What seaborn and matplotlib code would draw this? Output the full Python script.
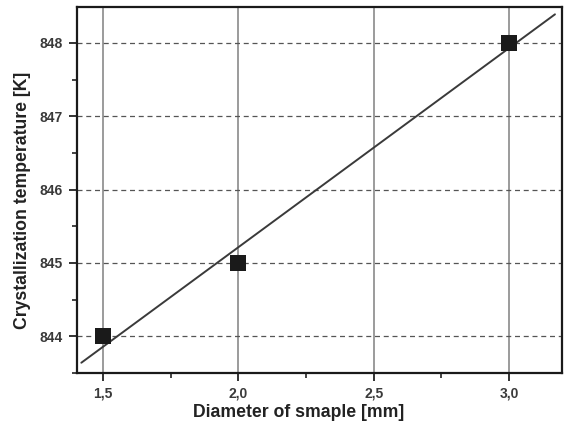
import numpy as np
import pandas as pd
import seaborn as sns
import matplotlib
matplotlib.use("Agg")
import matplotlib.pyplot as plt
from matplotlib.ticker import MultipleLocator, FuncFormatter

diameter = [1.5, 2.0, 3.0]
temperature = [844, 845, 848]
x_ticks = [1.5, 2.0, 2.5, 3.0]
y_ticks = [844, 845, 846, 847, 848]

sns.set_theme(style="white")
plt.rcParams['font.family'] = ['Liberation Sans', 'DejaVu Sans']

fig = plt.figure(figsize=(5.64, 4.25), dpi=100)
ax = fig.add_axes([77/564, 1 - 373/425, (562-77)/564, (373-7)/425])

df = pd.DataFrame({"d": diameter, "t": temperature})

# linear fit
slope, intercept = np.polyfit(diameter, temperature, 1)
xf = np.array([1.42, 3.17])
fit = pd.DataFrame({"d": xf, "t": slope * xf + intercept})

ax.set_xlim(1.404, 3.196)
ax.set_ylim(843.5, 848.49)

for xv in x_ticks:
    ax.axvline(xv, color="#8a8a8a", lw=1.2, zorder=0)
for yv in y_ticks:
    ax.axhline(yv, color="#555555", lw=0.9, ls=(0, (4, 3)), zorder=0)

sns.lineplot(data=fit, x="d", y="t", ax=ax, color="#3a3a3a", lw=1.4, zorder=2)
sns.scatterplot(data=df, x="d", y="t", ax=ax, marker="s", s=130, color="#1a1a1a",
                edgecolor="#1a1a1a", linewidth=0, zorder=3)

ax.set_xticks(x_ticks)
ax.set_yticks(y_ticks)
ax.xaxis.set_minor_locator(MultipleLocator(0.25))
ax.yaxis.set_minor_locator(MultipleLocator(0.5))
ax.xaxis.set_major_formatter(FuncFormatter(lambda v, p: f"{v:.1f}".replace(".", ",")))
ax.yaxis.set_major_formatter(FuncFormatter(lambda v, p: f"{int(round(v))}"))

ax.tick_params(axis="both", which="major", direction="out", length=6, width=1.3,
               colors="#222222", labelsize=10, labelcolor="#3a3a3a", pad=4,
               bottom=True, left=True)
ax.tick_params(axis="both", which="minor", direction="out", length=3.5, width=1.2,
               colors="#222222", bottom=True, left=True)
for lbl in ax.get_xticklabels() + ax.get_yticklabels():
    lbl.set_fontweight("bold")

for s in ax.spines.values():
    s.set_visible(True)
    s.set_color("#1a1a1a")
    s.set_linewidth(1.6)

ax.set_xlabel("Diameter of smaple [mm]", fontsize=12.7, fontweight="bold", color="#222222")
ax.set_ylabel("Crystallization temperature [K]", fontsize=12.7, fontweight="bold", color="#222222")
ax.xaxis.set_label_coords(0.456, -0.085)
ax.yaxis.set_label_coords(-0.095, 0.473)

fig.savefig("out.png", dpi=100)
